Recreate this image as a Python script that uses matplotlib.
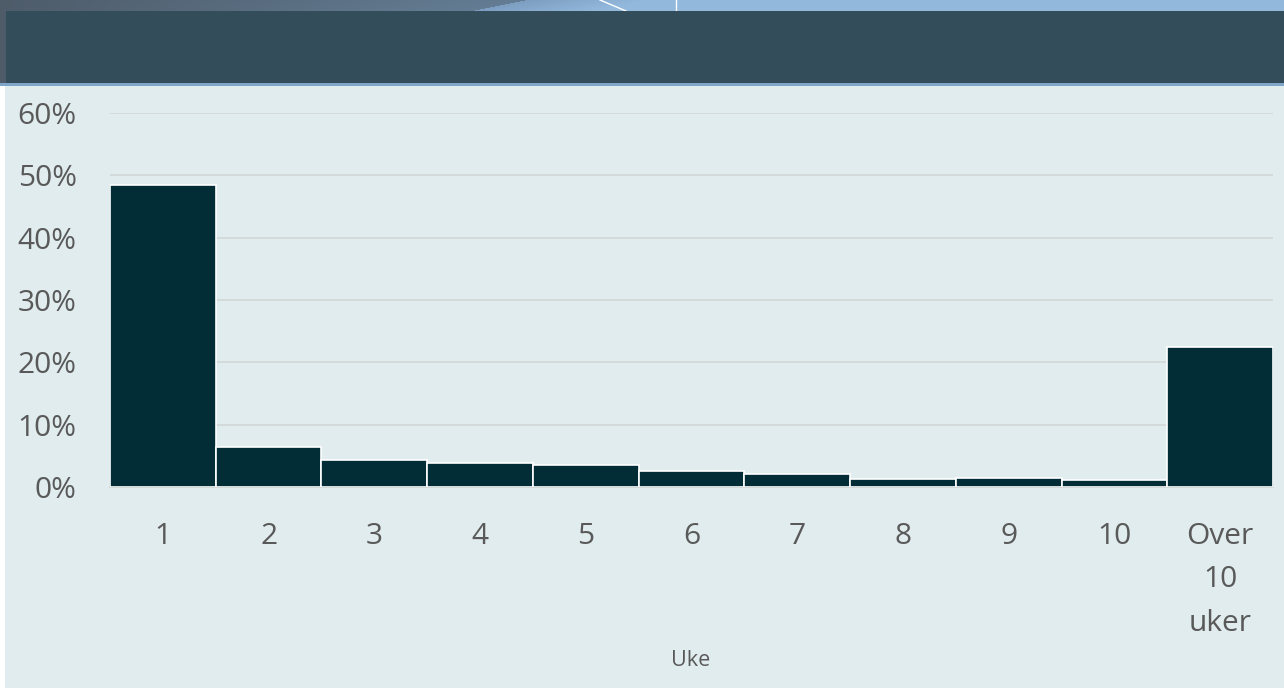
import numpy as np
import matplotlib
matplotlib.use("Agg")
import matplotlib.pyplot as plt
from matplotlib.patches import Rectangle
from matplotlib.ticker import PercentFormatter

plt.rcParams['font.family'] = ['Open Sans', 'DejaVu Sans']

# Share of cases by week
categories = ["1", "2", "3", "4", "5", "6", "7", "8", "9", "10", "Over\n10\nuker"]
shares = [0.484, 0.064, 0.044, 0.0385, 0.035, 0.026, 0.021, 0.013, 0.014, 0.012, 0.224]
y_ticks = [0.0, 0.1, 0.2, 0.3, 0.4, 0.5, 0.6]
x_title = "Uke"

W, H = 1284, 689
fig = plt.figure(figsize=(W / 100, H / 100), dpi=100)
fig.patch.set_facecolor("white")

# Decorative backdrop in pixel coordinates
bg = fig.add_axes([0, 0, 1, 1])
bg.set_xlim(0, W)
bg.set_ylim(H, 0)
bg.axis("off")

# Header gradient strip
left = np.array([78, 92, 106]) / 255
mid = np.array([100, 125, 148]) / 255
pale = np.array([125, 158, 192]) / 255
light = np.array([146, 184, 220]) / 255
grad = np.zeros((86, W, 3))
for j in range(86):
    edge = 470 + (11 - min(j, 11)) * 5
    for i in range(W):
        if i < edge:
            t = i / edge
            c = left * (1 - t) + mid * t
        else:
            t = min(1, (i - edge) / 120)
            c = pale * (1 - t) + light * t
        grad[j, i] = c
bg.imshow(grad, extent=(0, W, 86, 0), aspect="auto", zorder=0)
bg.plot([600, 626], [0, 11], color="white", lw=1.0, zorder=1)
bg.plot([676, 676], [0, 11], color="white", lw=1.0, zorder=1)

# Light strip under the banner
bg.add_patch(Rectangle((0, 83), W, 3, facecolor="#7fa6c8", edgecolor="none", zorder=1))
# Dark title banner
bg.add_patch(Rectangle((6, 11), W - 6, 72, facecolor="#334e5a", edgecolor="none", zorder=2))
# Chart panel
bg.add_patch(Rectangle((0, 86), 5, H - 86, facecolor="white", edgecolor="none", zorder=2))
bg.add_patch(Rectangle((5, 86), W - 5, 602, facecolor="#e1ecee", edgecolor="none", zorder=2))

# Main chart
x0, x1 = 110, 1273
y_base, y_top = 487, 113
ax = fig.add_axes([x0 / W, 1 - y_base / H, (x1 - x0) / W, (y_base - y_top) / H])
ax.set_facecolor("none")
x = np.arange(len(categories))
ax.bar(x, shares, width=1.0, color="#022c36", edgecolor="white", linewidth=1.2, zorder=3)
ax.set_xlim(-0.5, len(categories) - 0.5)
ax.set_ylim(0, 0.6)
ax.set_yticks(y_ticks)
ax.yaxis.set_major_formatter(PercentFormatter(1.0, decimals=0))
ax.grid(axis="y", color="#d3d7d8", linewidth=1.3, zorder=0)
ax.set_axisbelow(True)
for s in ["top", "right", "left"]:
    ax.spines[s].set_visible(False)
ax.spines["bottom"].set_color("#d3d7d8")
ax.spines["bottom"].set_linewidth(1.3)
ax.set_xticks(x)
ax.set_xticklabels(categories)
ax.tick_params(axis="both", length=0, labelsize=21.5, labelcolor="#595959")
ax.tick_params(axis="y", pad=24)
ax.tick_params(axis="x", pad=25)
for lab in ax.get_xticklabels():
    lab.set_linespacing(1.66)

fig.text(691 / W, 1 - 660 / H, x_title, ha="center", va="center", fontsize=15.5, color="#595959")

fig.savefig("out.png", dpi=100, facecolor=fig.get_facecolor())
